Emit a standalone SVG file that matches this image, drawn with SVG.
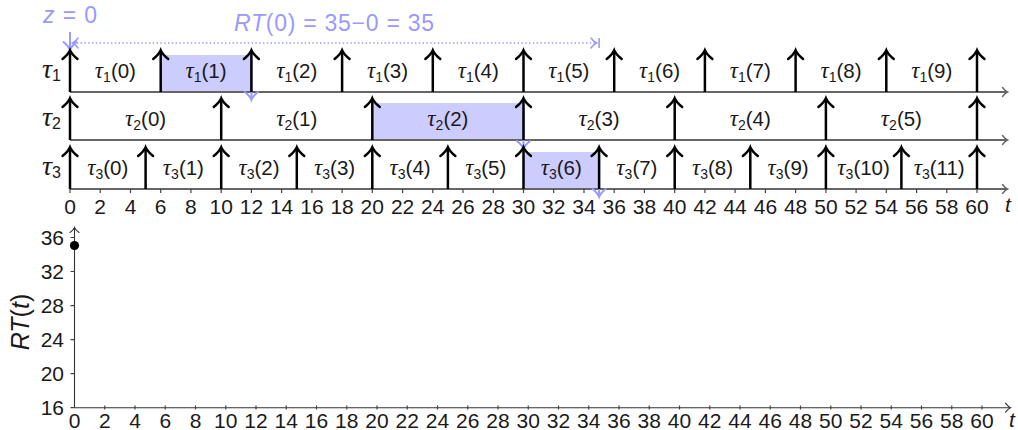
<svg xmlns="http://www.w3.org/2000/svg" width="1018" height="430" viewBox="0 0 1018 430">
<style>
.lb{font-family:"Liberation Sans",Arial,sans-serif;font-size:20.5px;text-anchor:middle;fill:#1a1a1a}
.tau{font-family:"Liberation Serif","Times New Roman",serif;font-style:italic;font-size:23px}
.rtau{font-family:"Liberation Serif","Times New Roman",serif;font-style:italic;font-size:28px;fill:#1a1a1a}
.sub{font-size:14px}
.rsub{font-family:"Liberation Sans",Arial,sans-serif;font-style:normal;font-size:16px}
.tk{font-family:"Liberation Sans",Arial,sans-serif;font-size:21px;text-anchor:middle;fill:#1a1a1a}
.ytk{font-family:"Liberation Sans",Arial,sans-serif;font-size:21px;text-anchor:end;fill:#1a1a1a}
.it{font-family:"Liberation Sans",Arial,sans-serif;font-style:italic}
.blue{fill:#9999ff;font-family:"Liberation Sans",Arial,sans-serif;font-size:23px}
.rel path{stroke:#000;stroke-width:2.5;fill:none;marker-end:url(#upB)}
.axis{stroke:#666;stroke-width:1.8;fill:none;marker-end:url(#axG)}
.tick{stroke:#444;stroke-width:1.2}
.bax{stroke:#333;stroke-width:1.1;fill:none;marker-end:url(#axK)}
.fin{stroke:#9999ff;stroke-width:2;fill:none;marker-end:url(#dnBl)}
.job{fill:#ccccff}
</style>
<defs>
<marker id="upB" markerUnits="userSpaceOnUse" viewBox="-10 -10 20 20" markerWidth="20" markerHeight="20" refX="0" refY="0" orient="auto" overflow="visible">
<path d="M-8,-7.5 C-5.5,-4.5 -2.2,-1.2 0.8,0 C-2.2,1.2 -5.5,4.5 -8,7.5" fill="none" stroke="#000" stroke-width="2.4" stroke-linecap="round"/>
</marker>
<marker id="dnBl" markerUnits="userSpaceOnUse" viewBox="-10 -10 20 20" markerWidth="20" markerHeight="20" refX="0" refY="0" orient="auto" overflow="visible">
<path d="M-7,-6.5 C-4.5,-3.5 -2,-1 0.8,0 C-2,1 -4.5,3.5 -7,6.5" fill="none" stroke="#9999ff" stroke-width="2" stroke-linecap="round"/>
</marker>
<marker id="axG" markerUnits="userSpaceOnUse" viewBox="-10 -10 20 20" markerWidth="20" markerHeight="20" refX="0" refY="0" orient="auto" overflow="visible">
<path d="M-4.5,-4.5 C-3,-2.5 -1,-0.6 0.5,0 C-1,0.6 -3,2.5 -4.5,4.5" fill="none" stroke="#666" stroke-width="1.4" stroke-linecap="round"/>
</marker>
<marker id="axK" markerUnits="userSpaceOnUse" viewBox="-10 -10 20 20" markerWidth="20" markerHeight="20" refX="0" refY="0" orient="auto" overflow="visible">
<path d="M-4.5,-4.5 C-3,-2.5 -1,-0.6 0.5,0 C-1,0.6 -3,2.5 -4.5,4.5" fill="none" stroke="#333" stroke-width="1.1" stroke-linecap="round"/>
</marker>
<marker id="dotL" markerUnits="userSpaceOnUse" viewBox="-10 -10 20 20" markerWidth="20" markerHeight="20" refX="0" refY="0" orient="auto-start-reverse" overflow="visible">
<path d="M-5,-5 C-3.5,-2.8 -1.2,-0.7 0.5,0 C-1.2,0.7 -3.5,2.8 -5,5" fill="none" stroke="#9999ff" stroke-width="1.5" stroke-linecap="round"/>
</marker>
</defs>

<!-- highlighted jobs -->
<g id="jobs">
<rect class="job" x="160.7" y="55" width="90.7" height="37"/>
<rect class="job" x="372.3" y="103" width="151.2" height="37"/>
<rect class="job" x="523.5" y="152" width="75.6" height="37"/>
</g>

<!-- axes of the schedule -->
<g id="axes-top">
<path class="axis" d="M70,92 H1007"/>
<path class="axis" d="M70,140 H1007"/>
<path class="axis" d="M70,189 H1007"/>
<path class="tick" d="M70,189v4 M100.2,189v4 M130.5,189v4 M160.7,189v4 M190.9,189v4 M221.2,189v4 M251.4,189v4 M281.6,189v4 M311.9,189v4 M342.1,189v4 M372.3,189v4 M402.6,189v4 M432.8,189v4 M463,189v4 M493.3,189v4 M523.5,189v4 M553.7,189v4 M584,189v4 M614.2,189v4 M644.4,189v4 M674.7,189v4 M704.9,189v4 M735.1,189v4 M765.4,189v4 M795.6,189v4 M825.9,189v4 M856.1,189v4 M886.3,189v4 M916.6,189v4 M946.8,189v4 M977,189v4"/>
</g>

<g id="ticklabels-top">
<text class="tk" y="214"><tspan x="70">0</tspan><tspan x="100.2">2</tspan><tspan x="130.5">4</tspan><tspan x="160.7">6</tspan><tspan x="190.9">8</tspan><tspan x="221.2">10</tspan><tspan x="251.4">12</tspan><tspan x="281.6">14</tspan><tspan x="311.9">16</tspan><tspan x="342.1">18</tspan><tspan x="372.3">20</tspan><tspan x="402.6">22</tspan><tspan x="432.8">24</tspan><tspan x="463">26</tspan><tspan x="493.3">28</tspan><tspan x="523.5">30</tspan><tspan x="553.7">32</tspan><tspan x="584">34</tspan><tspan x="614.2">36</tspan><tspan x="644.4">38</tspan><tspan x="674.7">40</tspan><tspan x="704.9">42</tspan><tspan x="735.1">44</tspan><tspan x="765.4">46</tspan><tspan x="795.6">48</tspan><tspan x="825.9">50</tspan><tspan x="856.1">52</tspan><tspan x="886.3">54</tspan><tspan x="916.6">56</tspan><tspan x="946.8">58</tspan><tspan x="977">60</tspan></text>
<text class="tk it" x="1008" y="212">t</text>
</g>

<!-- finish markers (drawn under release arrows) -->
<g id="finish">
<path class="fin" d="M70,32V49"/>
<path class="fin" d="M251.4,60V99"/>
<path class="fin" d="M523.5,108V148"/>
<path class="fin" d="M599.1,157V196"/>
</g>

<!-- task 1 -->
<g id="task1">
<text class="rtau" x="42" y="78">τ<tspan class="rsub" dy="3">1</tspan></text>
<g class="rel">
<path d="M70,92V51"/><path d="M160.7,92V51"/><path d="M251.4,92V51"/><path d="M342.1,92V51"/><path d="M432.8,92V51"/><path d="M523.5,92V51"/><path d="M614.2,92V51"/><path d="M704.9,92V51"/><path d="M795.6,92V51"/><path d="M886.3,92V51"/><path d="M977,92V51"/>
</g>
<text class="lb" x="115.4" y="78"><tspan class="tau">τ</tspan><tspan class="sub" dy="4">1</tspan><tspan dy="-4">(0)</tspan></text>
<text class="lb" x="206" y="78"><tspan class="tau">τ</tspan><tspan class="sub" dy="4">1</tspan><tspan dy="-4">(1)</tspan></text>
<text class="lb" x="296.8" y="78"><tspan class="tau">τ</tspan><tspan class="sub" dy="4">1</tspan><tspan dy="-4">(2)</tspan></text>
<text class="lb" x="387.5" y="78"><tspan class="tau">τ</tspan><tspan class="sub" dy="4">1</tspan><tspan dy="-4">(3)</tspan></text>
<text class="lb" x="478.2" y="78"><tspan class="tau">τ</tspan><tspan class="sub" dy="4">1</tspan><tspan dy="-4">(4)</tspan></text>
<text class="lb" x="568.9" y="78"><tspan class="tau">τ</tspan><tspan class="sub" dy="4">1</tspan><tspan dy="-4">(5)</tspan></text>
<text class="lb" x="659.6" y="78"><tspan class="tau">τ</tspan><tspan class="sub" dy="4">1</tspan><tspan dy="-4">(6)</tspan></text>
<text class="lb" x="750.3" y="78"><tspan class="tau">τ</tspan><tspan class="sub" dy="4">1</tspan><tspan dy="-4">(7)</tspan></text>
<text class="lb" x="841" y="78"><tspan class="tau">τ</tspan><tspan class="sub" dy="4">1</tspan><tspan dy="-4">(8)</tspan></text>
<text class="lb" x="931.7" y="78"><tspan class="tau">τ</tspan><tspan class="sub" dy="4">1</tspan><tspan dy="-4">(9)</tspan></text>
</g>

<!-- task 2 -->
<g id="task2">
<text class="rtau" x="42" y="126">τ<tspan class="rsub" dy="3">2</tspan></text>
<g class="rel">
<path d="M70,140V99"/><path d="M221.2,140V99"/><path d="M372.3,140V99"/><path d="M523.5,140V99"/><path d="M674.7,140V99"/><path d="M825.9,140V99"/><path d="M977,140V99"/>
</g>
<text class="lb" x="145.6" y="126"><tspan class="tau">τ</tspan><tspan class="sub" dy="4">2</tspan><tspan dy="-4">(0)</tspan></text>
<text class="lb" x="296.8" y="126"><tspan class="tau">τ</tspan><tspan class="sub" dy="4">2</tspan><tspan dy="-4">(1)</tspan></text>
<text class="lb" x="447.9" y="126"><tspan class="tau">τ</tspan><tspan class="sub" dy="4">2</tspan><tspan dy="-4">(2)</tspan></text>
<text class="lb" x="599.1" y="126"><tspan class="tau">τ</tspan><tspan class="sub" dy="4">2</tspan><tspan dy="-4">(3)</tspan></text>
<text class="lb" x="750.3" y="126"><tspan class="tau">τ</tspan><tspan class="sub" dy="4">2</tspan><tspan dy="-4">(4)</tspan></text>
<text class="lb" x="901.4" y="126"><tspan class="tau">τ</tspan><tspan class="sub" dy="4">2</tspan><tspan dy="-4">(5)</tspan></text>
</g>

<!-- task 3 -->
<g id="task3">
<text class="rtau" x="42" y="175">τ<tspan class="rsub" dy="3">3</tspan></text>
<g class="rel">
<path d="M70,189V148"/><path d="M145.6,189V148"/><path d="M221.2,189V148"/><path d="M296.8,189V148"/><path d="M372.3,189V148"/><path d="M447.9,189V148"/><path d="M523.5,189V148"/><path d="M599.1,189V148"/><path d="M674.7,189V148"/><path d="M750.3,189V148"/><path d="M825.9,189V148"/><path d="M901.4,189V148"/><path d="M977,189V148"/>
</g>
<text class="lb" x="107.8" y="175"><tspan class="tau">τ</tspan><tspan class="sub" dy="4">3</tspan><tspan dy="-4">(0)</tspan></text>
<text class="lb" x="183.4" y="175"><tspan class="tau">τ</tspan><tspan class="sub" dy="4">3</tspan><tspan dy="-4">(1)</tspan></text>
<text class="lb" x="259" y="175"><tspan class="tau">τ</tspan><tspan class="sub" dy="4">3</tspan><tspan dy="-4">(2)</tspan></text>
<text class="lb" x="334.6" y="175"><tspan class="tau">τ</tspan><tspan class="sub" dy="4">3</tspan><tspan dy="-4">(3)</tspan></text>
<text class="lb" x="410.1" y="175"><tspan class="tau">τ</tspan><tspan class="sub" dy="4">3</tspan><tspan dy="-4">(4)</tspan></text>
<text class="lb" x="485.7" y="175"><tspan class="tau">τ</tspan><tspan class="sub" dy="4">3</tspan><tspan dy="-4">(5)</tspan></text>
<text class="lb" x="561.3" y="175"><tspan class="tau">τ</tspan><tspan class="sub" dy="4">3</tspan><tspan dy="-4">(6)</tspan></text>
<text class="lb" x="636.9" y="175"><tspan class="tau">τ</tspan><tspan class="sub" dy="4">3</tspan><tspan dy="-4">(7)</tspan></text>
<text class="lb" x="712.5" y="175"><tspan class="tau">τ</tspan><tspan class="sub" dy="4">3</tspan><tspan dy="-4">(8)</tspan></text>
<text class="lb" x="788.1" y="175"><tspan class="tau">τ</tspan><tspan class="sub" dy="4">3</tspan><tspan dy="-4">(9)</tspan></text>
<text class="lb" x="863.6" y="175"><tspan class="tau">τ</tspan><tspan class="sub" dy="4">3</tspan><tspan dy="-4">(10)</tspan></text>
<text class="lb" x="939.2" y="175"><tspan class="tau">τ</tspan><tspan class="sub" dy="4">3</tspan><tspan dy="-4">(11)</tspan></text>
</g>

<!-- response time annotation -->
<g id="annotation">
<text class="blue" x="70" y="23" text-anchor="middle" textLength="54" lengthAdjust="spacing"><tspan class="it">z</tspan> = 0</text>
<path d="M73,43H596" stroke="#9999ff" stroke-width="1.6" stroke-dasharray="1.4 2.4" fill="none" marker-start="url(#dotL)" marker-end="url(#dotL)"/>
<path d="M599.1,38V48" stroke="#9999ff" stroke-width="1.6"/>
<text class="blue" x="334" y="31" text-anchor="middle" textLength="200" lengthAdjust="spacing"><tspan class="it">RT</tspan>(0) = 35−0 = 35</text>
</g>

<!-- RT(t) plot -->
<g id="rt-plot">
<path class="bax" d="M74.5,407.7H1010"/>
<path class="bax" d="M74.5,407.7V228"/>
<path class="tick" d="M70.5,407.7h4 M70.5,373.7h4 M70.5,339.6h4 M70.5,305.6h4 M70.5,271.5h4 M70.5,237.5h4"/>
<path class="tick" d="M104.75,405.5v4 M135,405.5v4 M165.25,405.5v4 M195.5,405.5v4 M225.75,405.5v4 M256,405.5v4 M286.25,405.5v4 M316.5,405.5v4 M346.75,405.5v4 M377,405.5v4 M407.25,405.5v4 M437.5,405.5v4 M467.75,405.5v4 M498,405.5v4 M528.25,405.5v4 M558.5,405.5v4 M588.75,405.5v4 M619,405.5v4 M649.25,405.5v4 M679.5,405.5v4 M709.75,405.5v4 M740,405.5v4 M770.25,405.5v4 M800.5,405.5v4 M830.75,405.5v4 M861,405.5v4 M891.25,405.5v4 M921.5,405.5v4 M951.75,405.5v4 M982,405.5v4"/>
<text class="ytk" x="64"><tspan x="64" y="415">16</tspan><tspan x="64" y="381">20</tspan><tspan x="64" y="347">24</tspan><tspan x="64" y="313">28</tspan><tspan x="64" y="279">32</tspan><tspan x="64" y="245">36</tspan></text>
<text class="tk" y="428"><tspan x="74.5">0</tspan><tspan x="104.75">2</tspan><tspan x="135">4</tspan><tspan x="165.25">6</tspan><tspan x="195.5">8</tspan><tspan x="225.75">10</tspan><tspan x="256">12</tspan><tspan x="286.25">14</tspan><tspan x="316.5">16</tspan><tspan x="346.75">18</tspan><tspan x="377">20</tspan><tspan x="407.25">22</tspan><tspan x="437.5">24</tspan><tspan x="467.75">26</tspan><tspan x="498">28</tspan><tspan x="528.25">30</tspan><tspan x="558.5">32</tspan><tspan x="588.75">34</tspan><tspan x="619">36</tspan><tspan x="649.25">38</tspan><tspan x="679.5">40</tspan><tspan x="709.75">42</tspan><tspan x="740">44</tspan><tspan x="770.25">46</tspan><tspan x="800.5">48</tspan><tspan x="830.75">50</tspan><tspan x="861">52</tspan><tspan x="891.25">54</tspan><tspan x="921.5">56</tspan><tspan x="951.75">58</tspan><tspan x="982">60</tspan></text>
<text class="tk it" x="1012" y="427">t</text>
<text transform="translate(29,322) rotate(-90)" text-anchor="middle" font-family="'Liberation Sans',Arial,sans-serif" font-size="25" fill="#1a1a1a"><tspan font-style="italic">RT</tspan>(<tspan font-style="italic">t</tspan>)</text>
<circle cx="74.5" cy="245.5" r="4.6" fill="#000"/>
</g>
</svg>
